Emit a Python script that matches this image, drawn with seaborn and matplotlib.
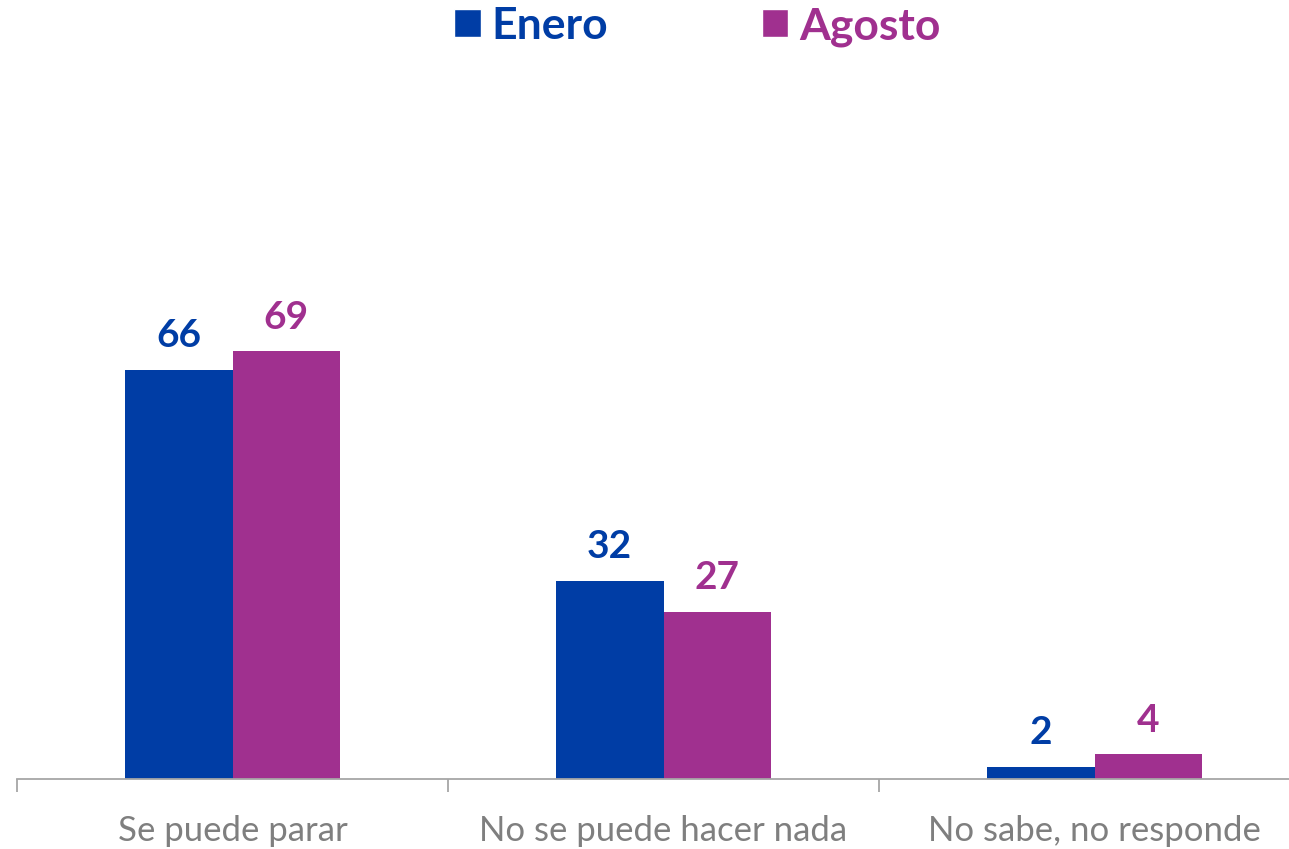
import pandas as pd
import seaborn as sns
import matplotlib.pyplot as plt
from matplotlib.patches import Patch

# ====== DATA ======
categories = ["Se puede parar", "No se puede hacer nada", "No sabe, no responde"]
enero = [66, 32, 2]
agosto = [69, 27, 4]
series = ["Enero", "Agosto"]
colors = ["#003DA5", "#A0308F"]

df = pd.DataFrame({
    "categoria": categories * 2,
    "valor": enero + agosto,
    "mes": [series[0]] * 3 + [series[1]] * 3,
})

# ====== STYLE ======
sns.set_style("white")
plt.rcParams["font.family"] = ["Lato", "DejaVu Sans"]

fig = plt.figure(figsize=(12.89, 8.49), dpi=100)
ax = fig.add_axes([17 / 1289, 70 / 849, 1293 / 1289, 620 / 849])

sns.barplot(data=df, x="categoria", y="valor", hue="mes", palette=colors,
            width=0.5, ax=ax, legend=False, saturation=1, linewidth=0)

# value labels
for cont, col in zip(ax.containers, colors):
    ax.bar_label(cont, color=col, fontsize=28, fontweight="bold", padding=12)

ax.set_ylim(0, 100)
ax.set_xlim(-0.5, 2.5)
ax.set_xlabel("")
ax.set_ylabel("")
ax.set_yticks([])

# axis line and category separators
for s in ["top", "right", "left"]:
    ax.spines[s].set_visible(False)
ax.spines["bottom"].set_color("#A6A6A6")
ax.spines["bottom"].set_linewidth(1.3)
ax.set_xticks([-0.5, 0.5, 1.5, 2.5], minor=True)
ax.tick_params(axis="x", which="minor", length=9, width=1.3, color="#A6A6A6", bottom=True)
ax.tick_params(axis="x", which="major", length=0, pad=26, labelsize=25, labelcolor="#7F7F7F")

# ====== LEGEND ======
handles = [Patch(facecolor=c, label=s) for c, s in zip(colors, series)]
leg = fig.legend(handles=handles, loc="upper center", bbox_to_anchor=(0.541, 1.04),
                 ncol=2, frameon=False, fontsize=32, handlelength=0.6, handleheight=0.6,
                 handletextpad=0.25, columnspacing=3.45)
for t, c in zip(leg.get_texts(), colors):
    t.set_color(c)
    t.set_fontweight("bold")

plt.savefig("out.png", dpi=100)
plt.close()
